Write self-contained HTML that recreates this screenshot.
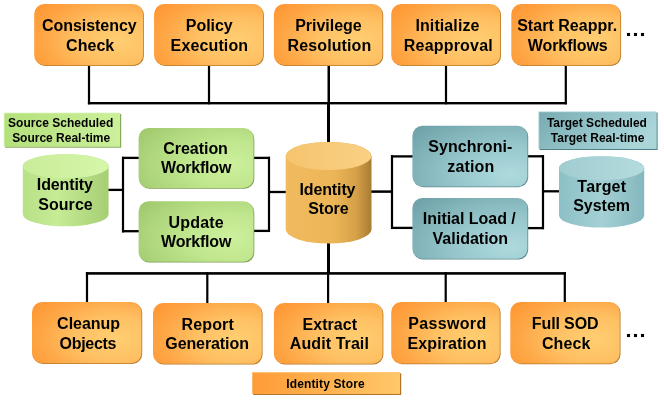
<!DOCTYPE html>
<html><head><meta charset="utf-8"><title>Identity Store</title>
<style>
html,body{margin:0;padding:0;background:#fff;}
body{width:664px;height:400px;overflow:hidden;}
svg{display:block;position:absolute;left:0;top:0;}
text{font-family:"Liberation Sans",sans-serif;font-weight:bold;white-space:pre;fill:#000;}
.t{font-size:16px;}
.s{font-size:12px;}
</style></head><body>
<svg width="664" height="400" viewBox="0 0 664 400">
<defs>
<radialGradient id="gO" cx="0.76" cy="0.6" r="0.92">
<stop offset="0" stop-color="#ffce72"/><stop offset="0.4" stop-color="#fec062"/><stop offset="0.75" stop-color="#fea544"/><stop offset="1" stop-color="#ff9733"/></radialGradient>
<radialGradient id="gG" cx="0.8" cy="0.6" r="0.95">
<stop offset="0" stop-color="#ccf09c"/><stop offset="0.4" stop-color="#c0e68e"/><stop offset="0.75" stop-color="#aed67c"/><stop offset="1" stop-color="#a0c96e"/></radialGradient>
<radialGradient id="gT" cx="0.85" cy="0.8" r="1.1">
<stop offset="0" stop-color="#aedadd"/><stop offset="0.45" stop-color="#96c6cb"/><stop offset="1" stop-color="#6fa3a9"/></radialGradient>
<linearGradient id="cG" x1="0" y1="0" x2="1" y2="0">
<stop offset="0" stop-color="#b8e086"/><stop offset="0.4" stop-color="#c6ec96"/><stop offset="1" stop-color="#a6ce74"/></linearGradient>
<linearGradient id="cGt" x1="0" y1="0" x2="1" y2="0">
<stop offset="0" stop-color="#c8ec98"/><stop offset="1" stop-color="#d6f6aa"/></linearGradient>
<linearGradient id="cO" x1="0" y1="0" x2="1" y2="0">
<stop offset="0" stop-color="#f0ba5e"/><stop offset="0.55" stop-color="#ecb658"/><stop offset="0.82" stop-color="#d6a048"/><stop offset="1" stop-color="#a87c34"/></linearGradient>
<linearGradient id="cOt" x1="0" y1="0" x2="1" y2="0">
<stop offset="0" stop-color="#f5c46e"/><stop offset="1" stop-color="#fad084"/></linearGradient>
<linearGradient id="cT" x1="0" y1="0" x2="1" y2="0">
<stop offset="0" stop-color="#8cc0c6"/><stop offset="0.5" stop-color="#a4d0d4"/><stop offset="1" stop-color="#84b8be"/></linearGradient>
<linearGradient id="cTt" x1="0" y1="0" x2="1" y2="0">
<stop offset="0" stop-color="#a0ccd0"/><stop offset="1" stop-color="#b4dcde"/></linearGradient>
<linearGradient id="lG" x1="0" y1="0" x2="1" y2="0">
<stop offset="0" stop-color="#b4e07c"/><stop offset="1" stop-color="#ccf09c"/></linearGradient>
<linearGradient id="lT" x1="0" y1="0" x2="1" y2="0.35">
<stop offset="0" stop-color="#78acb2"/><stop offset="1" stop-color="#aad6da"/></linearGradient>
<linearGradient id="lO" x1="0" y1="0" x2="1" y2="0">
<stop offset="0" stop-color="#ff9c38"/><stop offset="1" stop-color="#ffc868"/></linearGradient>
</defs>
<rect x="87.9" y="60" width="2.2" height="44.3" fill="#000"/>
<rect x="207.9" y="60" width="2.2" height="44.3" fill="#000"/>
<rect x="444.9" y="60" width="2.2" height="44.3" fill="#000"/>
<rect x="564.6999999999999" y="60" width="2.2" height="44.3" fill="#000"/>
<rect x="87.9" y="102.0" width="479.0" height="2.4" fill="#000"/>
<rect x="327.5" y="60" width="2.5" height="44" fill="#000"/>
<rect x="327.0" y="103" width="3" height="47" fill="#000"/>
<rect x="327.0" y="235" width="3" height="39" fill="#000"/>
<rect x="85.9" y="272.09999999999997" width="480.0" height="2.6" fill="#000"/>
<rect x="85.9" y="272.2" width="2.2" height="37.80000000000001" fill="#000"/>
<rect x="206.20000000000002" y="272.2" width="2.2" height="37.80000000000001" fill="#000"/>
<rect x="327.0" y="272.2" width="2.2" height="37.80000000000001" fill="#000"/>
<rect x="444.59999999999997" y="272.2" width="2.2" height="37.80000000000001" fill="#000"/>
<rect x="563.6999999999999" y="272.2" width="2.2" height="37.80000000000001" fill="#000"/>
<rect x="100" y="188.75" width="23" height="2.3" fill="#000"/>
<rect x="121.9" y="156.8" width="2.2" height="75.6" fill="#000"/>
<rect x="122" y="156.75" width="28" height="2.3" fill="#000"/>
<rect x="122" y="230.04999999999998" width="28" height="2.3" fill="#000"/>
<rect x="240" y="156.75" width="30" height="2.3" fill="#000"/>
<rect x="240" y="229.75" width="30" height="2.3" fill="#000"/>
<rect x="267.9" y="156.8" width="2.2" height="75.19999999999999" fill="#000"/>
<rect x="269" y="190.85" width="31" height="2.3" fill="#000"/>
<rect x="360" y="190.35" width="32" height="2.5" fill="#000"/>
<rect x="390.9" y="155.2" width="2.2" height="73.80000000000001" fill="#000"/>
<rect x="391" y="155.25" width="29" height="2.3" fill="#000"/>
<rect x="391" y="226.75" width="29" height="2.3" fill="#000"/>
<rect x="520" y="155.15" width="24" height="2.3" fill="#000"/>
<rect x="520" y="226.95" width="24" height="2.3" fill="#000"/>
<rect x="541.9" y="155.2" width="2.2" height="74.0" fill="#000"/>
<rect x="543" y="190.15" width="27" height="2.3" fill="#000"/>
<rect x="35.0" y="4.8" width="108.9" height="61.2" rx="10" ry="10" fill="#b87a2a"/><rect x="34.2" y="4" width="108.9" height="61.2" rx="10" ry="10" fill="url(#gO)"/>
<rect x="154.9" y="4.8" width="108.99999999999999" height="61.2" rx="10" ry="10" fill="#b87a2a"/><rect x="154.1" y="4" width="108.99999999999999" height="61.2" rx="10" ry="10" fill="url(#gO)"/>
<rect x="274.7" y="4.8" width="108.50000000000001" height="61.2" rx="10" ry="10" fill="#b87a2a"/><rect x="273.9" y="4" width="108.50000000000001" height="61.2" rx="10" ry="10" fill="url(#gO)"/>
<rect x="392.0" y="4.8" width="109.00000000000001" height="61.2" rx="10" ry="10" fill="#b87a2a"/><rect x="391.2" y="4" width="109.00000000000001" height="61.2" rx="10" ry="10" fill="url(#gO)"/>
<rect x="512.1" y="4.8" width="109.00000000000001" height="61.2" rx="10" ry="10" fill="#b87a2a"/><rect x="511.3" y="4" width="109.00000000000001" height="61.2" rx="10" ry="10" fill="url(#gO)"/>
<rect x="32.8" y="302.8" width="109.39999999999999" height="61.2" rx="10" ry="10" fill="#b87a2a"/><rect x="32" y="302" width="109.39999999999999" height="61.2" rx="10" ry="10" fill="url(#gO)"/>
<rect x="153.8" y="303.8" width="108.80000000000003" height="60.800000000000026" rx="10" ry="10" fill="#b87a2a"/><rect x="153" y="303" width="108.80000000000003" height="60.800000000000026" rx="10" ry="10" fill="url(#gO)"/>
<rect x="274.7" y="303.8" width="108.7" height="60.7" rx="10" ry="10" fill="#b87a2a"/><rect x="273.9" y="303" width="108.7" height="60.7" rx="10" ry="10" fill="url(#gO)"/>
<rect x="392.0" y="302.8" width="108.60000000000004" height="61.39999999999999" rx="10" ry="10" fill="#b87a2a"/><rect x="391.2" y="302" width="108.60000000000004" height="61.39999999999999" rx="10" ry="10" fill="url(#gO)"/>
<rect x="511.1" y="302.8" width="109.39999999999999" height="61.39999999999999" rx="10" ry="10" fill="#b87a2a"/><rect x="510.3" y="302" width="109.39999999999999" height="61.39999999999999" rx="10" ry="10" fill="url(#gO)"/>
<rect x="139.4" y="128.8" width="114.90000000000002" height="60.000000000000014" rx="10" ry="10" fill="#7f9f55"/><rect x="138.6" y="128" width="114.90000000000002" height="60.000000000000014" rx="10" ry="10" fill="url(#gG)"/>
<rect x="139.4" y="202.0" width="114.90000000000002" height="60.60000000000004" rx="10" ry="10" fill="#7f9f55"/><rect x="138.6" y="201.2" width="114.90000000000002" height="60.60000000000004" rx="10" ry="10" fill="url(#gG)"/>
<rect x="413.2" y="126.6" width="115.00000000000007" height="60.599999999999994" rx="10" ry="10" fill="#5f8a90"/><rect x="412.4" y="125.8" width="115.00000000000007" height="60.599999999999994" rx="10" ry="10" fill="url(#gT)"/>
<rect x="413.2" y="198.8" width="115.00000000000007" height="60.800000000000026" rx="10" ry="10" fill="#5f8a90"/><rect x="412.4" y="198" width="115.00000000000007" height="60.800000000000026" rx="10" ry="10" fill="url(#gT)"/>
<path d="M22.8 166.2 L22.8 214.3 A42.9 12 0 0 0 108.6 214.3 L108.6 166.2 A42.9 12 0 0 0 22.8 166.2 Z" fill="url(#cG)"/><ellipse cx="65.7" cy="166.2" rx="42.9" ry="12" fill="url(#cGt)"/>
<path d="M285.7 156 L285.7 229.5 A42.900000000000006 14 0 0 0 371.5 229.5 L371.5 156 A42.900000000000006 14 0 0 0 285.7 156 Z" fill="url(#cO)"/><ellipse cx="328.6" cy="156" rx="42.900000000000006" ry="14" fill="url(#cOt)"/>
<path d="M559 168.2 L559 215.6 A42.60000000000002 12 0 0 0 644.2 215.6 L644.2 168.2 A42.60000000000002 12 0 0 0 559 168.2 Z" fill="url(#cT)"/><ellipse cx="601.6" cy="168.2" rx="42.60000000000002" ry="12" fill="url(#cTt)"/>
<rect x="5.0" y="113.9" width="116.2" height="33.79999999999998" fill="#86aa5a"/><rect x="3.8" y="112.7" width="116.2" height="33.79999999999998" fill="#d2f2a8"/><rect x="4.6" y="113.5" width="115.4" height="32.999999999999986" fill="url(#lG)"/>
<rect x="539.6" y="112.60000000000001" width="118.00000000000004" height="37.39999999999999" fill="#4f8088"/><rect x="538.4" y="111.4" width="118.00000000000004" height="37.39999999999999" fill="#b4dadd"/><rect x="539.1999999999999" y="112.2" width="117.20000000000005" height="36.599999999999994" fill="url(#lT)"/>
<rect x="253.2" y="373.3" width="148.0" height="21.699999999999978" fill="#b07426"/><rect x="252" y="372.1" width="148.0" height="21.699999999999978" fill="#ffc070"/><rect x="252.8" y="372.90000000000003" width="147.2" height="20.899999999999977" fill="url(#lO)"/>
<rect x="626.95" y="32.95" width="3.1" height="3.1" fill="#000"/>
<rect x="633.95" y="32.95" width="3.1" height="3.1" fill="#000"/>
<rect x="640.95" y="32.95" width="3.1" height="3.1" fill="#000"/>
<rect x="626.95" y="333.95" width="3.1" height="3.1" fill="#000"/>
<rect x="633.95" y="333.95" width="3.1" height="3.1" fill="#000"/>
<rect x="640.95" y="333.95" width="3.1" height="3.1" fill="#000"/>
</svg>
<svg width="664" height="400" viewBox="0 0 664 400" style="will-change:transform;opacity:0.999">
<text class="t" x="42.113" y="31" style="letter-spacing:-0.063px">Consistency</text>
<text class="t" x="66.1" y="51" style="letter-spacing:0.027px">Check</text>
<text class="t" x="185.856" y="31" style="letter-spacing:-0.044px">Policy</text>
<text class="t" x="170.605" y="51" style="letter-spacing:0.129px">Execution</text>
<text class="t" x="295.177" y="31" style="letter-spacing:-0.015px">Privilege</text>
<text class="t" x="287.605" y="51" style="letter-spacing:0.113px">Resolution</text>
<text class="t" x="415.455" y="31" style="letter-spacing:0.096px">Initialize</text>
<text class="t" x="403.856" y="51" style="letter-spacing:0.189px">Reapproval</text>
<text class="t" x="517.16" y="31" style="letter-spacing:0.033px">Start Reappr.</text>
<text class="t" x="527.837" y="51" style="letter-spacing:-0.091px">Workflows</text>
<text class="t" x="57.1" y="329" style="letter-spacing:-0.016px">Cleanup</text>
<text class="t" x="59.547" y="349" style="letter-spacing:-0.291px">Objects</text>
<text class="t" x="181.455" y="330" style="letter-spacing:0.156px">Report</text>
<text class="t" x="165.282" y="349" style="letter-spacing:-0.092px">Generation</text>
<text class="t" x="302.455" y="330" style="letter-spacing:0.062px">Extract</text>
<text class="t" x="289.849" y="349" style="letter-spacing:0.077px">Audit Trail</text>
<text class="t" x="408.177" y="329" style="letter-spacing:0.347px">Password</text>
<text class="t" x="407.605" y="349" style="letter-spacing:0.072px">Expiration</text>
<text class="t" x="531.856" y="329" style="letter-spacing:-0.126px">Full SOD</text>
<text class="t" x="541.907" y="349" style="letter-spacing:0.129px">Check</text>
<text class="t" x="163.348" y="154" style="letter-spacing:-0.05px">Creation</text>
<text class="t" x="161.112" y="173" style="letter-spacing:-0.208px">Workflow</text>
<text class="t" x="168.618" y="228" style="letter-spacing:0.176px">Update</text>
<text class="t" x="161.112" y="247" style="letter-spacing:-0.208px">Workflow</text>
<text class="t" x="428.206" y="152" style="letter-spacing:0.063px">Synchroni-</text>
<text class="t" x="447.367" y="172" style="letter-spacing:0.127px">zation</text>
<text class="t" x="422.856" y="224" style="letter-spacing:-0.034px">Initial Load /</text>
<text class="t" x="432.562" y="244" style="letter-spacing:0.002px">Validation</text>
<text class="t" x="36.856" y="190" style="letter-spacing:-0.125px">Identity</text>
<text class="t" x="38.16" y="210" style="letter-spacing:0.072px">Source</text>
<text class="t" x="299.455" y="195" style="letter-spacing:-0.12px">Identity</text>
<text class="t" x="308.269" y="214" style="letter-spacing:-0.147px">Store</text>
<text class="t" x="577.349" y="192" style="letter-spacing:0.198px">Target</text>
<text class="t" x="573.16" y="211" style="letter-spacing:-0.001px">System</text>
<text class="s" x="8.009" y="127" style="letter-spacing:0.035px">Source Scheduled</text>
<text class="s" x="12.125" y="142" style="letter-spacing:-0.006px">Source Real-time</text>
<text class="s" x="546.899" y="127" style="letter-spacing:0.015px">Target Scheduled</text>
<text class="s" x="550.837" y="142" style="letter-spacing:0.036px">Target Real-time</text>
<text class="s" x="286.293" y="388" style="letter-spacing:0.129px">Identity Store</text>
</svg>
</body></html>
